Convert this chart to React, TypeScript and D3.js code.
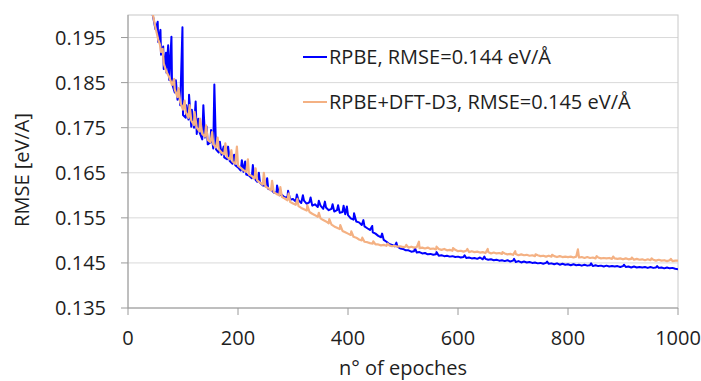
import React from "react";
import * as d3 from "d3";

const epochs = d3.range(0, 1001, 5);

const rpbe = [
  0.300, 0.262, 0.245, 0.233, 0.224, 0.217, 0.211, 0.2065, 0.2030, 0.2000,
  0.1968, 0.1940, 0.1912, 0.1880, 0.1872, 0.1856, 0.1848, 0.1828, 0.1812, 0.1800,
  0.1778, 0.1772, 0.1768, 0.1752, 0.1750, 0.1736, 0.1740, 0.1724, 0.1728, 0.1713,
  0.1718, 0.1704, 0.1702, 0.1695, 0.1690, 0.1684, 0.1680, 0.1676, 0.1670, 0.1667,
  0.1662, 0.1655, 0.1652, 0.1646, 0.1644, 0.1638, 0.1637, 0.1630, 0.1628, 0.1622,
  0.1621, 0.1614, 0.1613, 0.1606, 0.1605, 0.1600, 0.1601, 0.1595, 0.1596, 0.1590,
  0.1592, 0.1586, 0.1589, 0.1583, 0.1588, 0.1581, 0.1585, 0.1577, 0.1580, 0.1574,
  0.1577, 0.1570, 0.1573, 0.1567, 0.1570, 0.1564, 0.1567, 0.1561, 0.1563, 0.1558,
  0.1556, 0.1549, 0.1546, 0.1542, 0.1540, 0.1534, 0.1531, 0.1527, 0.1523, 0.1518,
  0.1515, 0.1510, 0.1507, 0.1501, 0.1497, 0.1492, 0.1490, 0.1487, 0.1486, 0.1482,
  0.1481, 0.1478, 0.1478, 0.1475, 0.1476, 0.1473, 0.1474, 0.1471, 0.1472, 0.1469,
  0.1470, 0.1468, 0.1469, 0.1466, 0.1467, 0.1465, 0.1466, 0.1464, 0.1465, 0.1463,
  0.1464, 0.1462, 0.1463, 0.1461, 0.1462, 0.1460, 0.1461, 0.1459, 0.1462, 0.1458,
  0.1459, 0.1457, 0.1458, 0.1456, 0.1457, 0.1455, 0.1456, 0.1454, 0.1456, 0.1453,
  0.1455, 0.1452, 0.1454, 0.1451, 0.1453, 0.1451, 0.1452, 0.1450, 0.1451, 0.1449,
  0.1450, 0.1448, 0.1450, 0.1448, 0.1449, 0.1447, 0.1449, 0.1446, 0.1448, 0.1446,
  0.1447, 0.1445, 0.1447, 0.1445, 0.1446, 0.1444, 0.1446, 0.1444, 0.1445, 0.1443,
  0.1445, 0.1443, 0.1444, 0.1442, 0.1444, 0.1442, 0.1443, 0.1442, 0.1443, 0.1441,
  0.1443, 0.1441, 0.1442, 0.1440, 0.1442, 0.1440, 0.1441, 0.1440, 0.1441, 0.1439,
  0.1441, 0.1439, 0.1440, 0.1439, 0.1440, 0.1438, 0.1440, 0.1438, 0.1439, 0.1437,
  0.1436,
];

const rpbeD3 = [
  0.300, 0.262, 0.245, 0.233, 0.224, 0.217, 0.211, 0.2065, 0.2032, 0.2002,
  0.1972, 0.1945, 0.1918, 0.1892, 0.1874, 0.1862, 0.1845, 0.1835, 0.1818, 0.1806,
  0.1790, 0.1784, 0.1772, 0.1766, 0.1756, 0.1750, 0.1742, 0.1736, 0.1730, 0.1723,
  0.1718, 0.1713, 0.1706, 0.1702, 0.1695, 0.1691, 0.1685, 0.1680, 0.1675, 0.1670,
  0.1666, 0.1661, 0.1656, 0.1652, 0.1646, 0.1643, 0.1637, 0.1633, 0.1628, 0.1624,
  0.1619, 0.1616, 0.1611, 0.1607, 0.1603, 0.1600, 0.1596, 0.1593, 0.1589, 0.1585,
  0.1582, 0.1579, 0.1576, 0.1572, 0.1569, 0.1566, 0.1563, 0.1559, 0.1556, 0.1552,
  0.1549, 0.1545, 0.1542, 0.1538, 0.1535, 0.1531, 0.1528, 0.1525, 0.1521, 0.1518,
  0.1515, 0.1512, 0.1508, 0.1506, 0.1502, 0.1500, 0.1497, 0.1496, 0.1494, 0.1493,
  0.1491, 0.1491, 0.1489, 0.1490, 0.1488, 0.1489, 0.1487, 0.1488, 0.1486, 0.1487,
  0.1485, 0.1486, 0.1484, 0.1486, 0.1484, 0.1485, 0.1483, 0.1484, 0.1482, 0.1484,
  0.1481, 0.1482, 0.1480, 0.1481, 0.1479, 0.1481, 0.1478, 0.1479, 0.1477, 0.1479,
  0.1476, 0.1477, 0.1475, 0.1477, 0.1474, 0.1476, 0.1474, 0.1475, 0.1473, 0.1474,
  0.1472, 0.1474, 0.1471, 0.1473, 0.1471, 0.1472, 0.1470, 0.1471, 0.1469, 0.1470,
  0.1468, 0.1470, 0.1467, 0.1469, 0.1467, 0.1468, 0.1466, 0.1467, 0.1465, 0.1467,
  0.1465, 0.1466, 0.1464, 0.1466, 0.1464, 0.1465, 0.1463, 0.1465, 0.1463, 0.1464,
  0.1463, 0.1464, 0.1462, 0.1464, 0.1462, 0.1463, 0.1461, 0.1463, 0.1461, 0.1462,
  0.1460, 0.1462, 0.1460, 0.1461, 0.1460, 0.1461, 0.1459, 0.1460, 0.1459, 0.1460,
  0.1458, 0.1460, 0.1458, 0.1459, 0.1457, 0.1459, 0.1457, 0.1458, 0.1456, 0.1458,
  0.1456, 0.1457, 0.1455, 0.1457, 0.1455, 0.1456, 0.1454, 0.1456, 0.1454, 0.1455,
  0.1455,
];

const rpbeSpikes: [number, number][] = [
  [54, 0.1985], [59, 0.1967], [64, 0.1930], [69, 0.1916], [73, 0.1933], [79, 0.1952],
  [87, 0.1855], [93, 0.1835], [99, 0.1973], [106, 0.1800], [111, 0.1823], [116, 0.1790],
  [123, 0.1808], [128, 0.1770], [137, 0.1800], [143, 0.1752], [151, 0.1745], [157, 0.1846],
  [167, 0.1719], [174, 0.1708], [182, 0.1708], [193, 0.1690], [207, 0.1678], [213, 0.1675],
  [227, 0.1667], [238, 0.1650], [253, 0.1638], [271, 0.1622], [291, 0.1610], [307, 0.1602],
  [318, 0.1600], [332, 0.1595], [347, 0.1588], [358, 0.1586], [372, 0.1580], [382, 0.1578],
  [392, 0.1577], [398, 0.1575], [411, 0.1560], [428, 0.1545], [444, 0.1532], [462, 0.1515],
  [488, 0.1495], [522, 0.1482], [561, 0.1474], [612, 0.1467], [648, 0.1464], [702, 0.1459],
  [762, 0.1453], [842, 0.1449], [902, 0.1446], [962, 0.1443],
];

const rpbeD3Spikes: [number, number][] = [
  [58, 0.1935], [63, 0.1925], [84, 0.1858], [92, 0.1838], [103, 0.1810], [112, 0.1800],
  [121, 0.1785], [131, 0.1770], [142, 0.1755], [153, 0.1740], [163, 0.1728], [177, 0.1715],
  [188, 0.1700], [198, 0.1708], [218, 0.1680], [232, 0.1660], [247, 0.1650], [262, 0.1632],
  [277, 0.1618], [292, 0.1604], [308, 0.1592], [326, 0.1578], [347, 0.1561], [366, 0.1547],
  [386, 0.1534], [406, 0.1520], [426, 0.1506], [446, 0.1498], [472, 0.1493], [506, 0.1490],
  [529, 0.1497], [561, 0.1486], [591, 0.1483], [617, 0.1481], [654, 0.1481], [681, 0.1474],
  [704, 0.1476], [741, 0.1469], [771, 0.1468], [818, 0.1480], [852, 0.1465], [882, 0.1464],
  [916, 0.1462], [952, 0.1460], [987, 0.1459],
];

const yTicks = [0.135, 0.145, 0.155, 0.165, 0.175, 0.185, 0.195];
const xTicks = [0, 200, 400, 600, 800, 1000];
const seriesNames = ["RPBE, RMSE=0.144 eV/Å", "RPBE+DFT-D3, RMSE=0.145 eV/Å"];
const seriesColors = ["#0000ff", "#f4b183"];
const xTitle = "n° of epoches";
const yTitle = "RMSE [eV/A]";

function mergePoints(base: number[], spikes: [number, number][]): [number, number][] {
  const pts: [number, number][] = epochs.map((e, i) => [e, base[i]] as [number, number]);
  spikes.forEach((s) => pts.push(s));
  pts.sort((a, b) => a[0] - b[0]);
  return pts;
}

export default function App() {
  const W = 701;
  const H = 381;
  const left = 128;
  const right = 678;
  const top = 15;
  const bottom = 308;
  const x = d3.scaleLinear().domain([0, 1000]).range([left, right]);
  const y = d3.scaleLinear().domain([0.135, 0.2]).range([bottom, top]);
  const line = d3
    .line<[number, number]>()
    .x((d) => x(d[0]))
    .y((d) => y(d[1]));
  const s1 = mergePoints(rpbe, rpbeSpikes);
  const s2 = mergePoints(rpbeD3, rpbeD3Spikes);
  const font = "'Open Sans', 'Noto Sans', sans-serif";
  const textColor = "#1e1e1e";

  return (
    <svg
      width={W}
      height={H}
      style={{ position: "absolute", left: 0, top: 0, background: "#fff" }}
      fontFamily={font}
    >
      <defs>
        <clipPath id="plotClip">
          <rect x={left} y={top} width={right - left} height={bottom - top} />
        </clipPath>
      </defs>
      <rect x={0} y={0} width={W} height={H} fill="#fff" />
      {yTicks.slice(1).map((t) => (
        <line key={t} x1={left} x2={right} y1={y(t)} y2={y(t)} stroke="#d9d9d9" strokeWidth={1} />
      ))}
      <rect
        x={left}
        y={top}
        width={right - left}
        height={bottom - top}
        fill="none"
        stroke="#c8c8c8"
        strokeWidth={1}
      />
      <g clipPath="url(#plotClip)">
        <path d={line(s1) || ""} fill="none" stroke={seriesColors[0]} strokeWidth={2} strokeLinejoin="round" />
        <path d={line(s2) || ""} fill="none" stroke={seriesColors[1]} strokeWidth={2.2} strokeLinejoin="round" />
      </g>
      <line x1={left} x2={left} y1={top} y2={bottom} stroke="#9a9a9a" strokeWidth={1} />
      <line x1={left} x2={right} y1={bottom} y2={bottom} stroke="#9a9a9a" strokeWidth={1} />
      {yTicks.map((t) => (
        <g key={t}>
          <line x1={left - 7} x2={left} y1={y(t)} y2={y(t)} stroke="#9a9a9a" />
          <text x={106} y={y(t)} dy="0.35em" textAnchor="end" fontSize={20} fill={textColor}>
            {t.toFixed(3)}
          </text>
        </g>
      ))}
      {xTicks.map((t) => (
        <g key={t}>
          <line x1={x(t)} x2={x(t)} y1={bottom} y2={bottom + 7} stroke="#9a9a9a" />
          <text x={x(t)} y={345} textAnchor="middle" fontSize={20} fill={textColor}>
            {t}
          </text>
        </g>
      ))}
      <text x={(left + right) / 2} y={375} textAnchor="middle" fontSize={20} fill={textColor}>
        {xTitle}
      </text>
      <text
        transform={`translate(29,170) rotate(-90)`}
        textAnchor="middle"
        fontSize={20}
        fill={textColor}
      >
        {yTitle}
      </text>
      {seriesNames.map((name, i) => (
        <g key={name}>
          <line x1={303} x2={327} y1={57 + i * 45} y2={57 + i * 45} stroke={seriesColors[i]} strokeWidth={2} />
          <text x={329} y={57 + i * 45} dy="0.35em" fontSize={20} fill={textColor}>
            {name}
          </text>
        </g>
      ))}
    </svg>
  );
}
